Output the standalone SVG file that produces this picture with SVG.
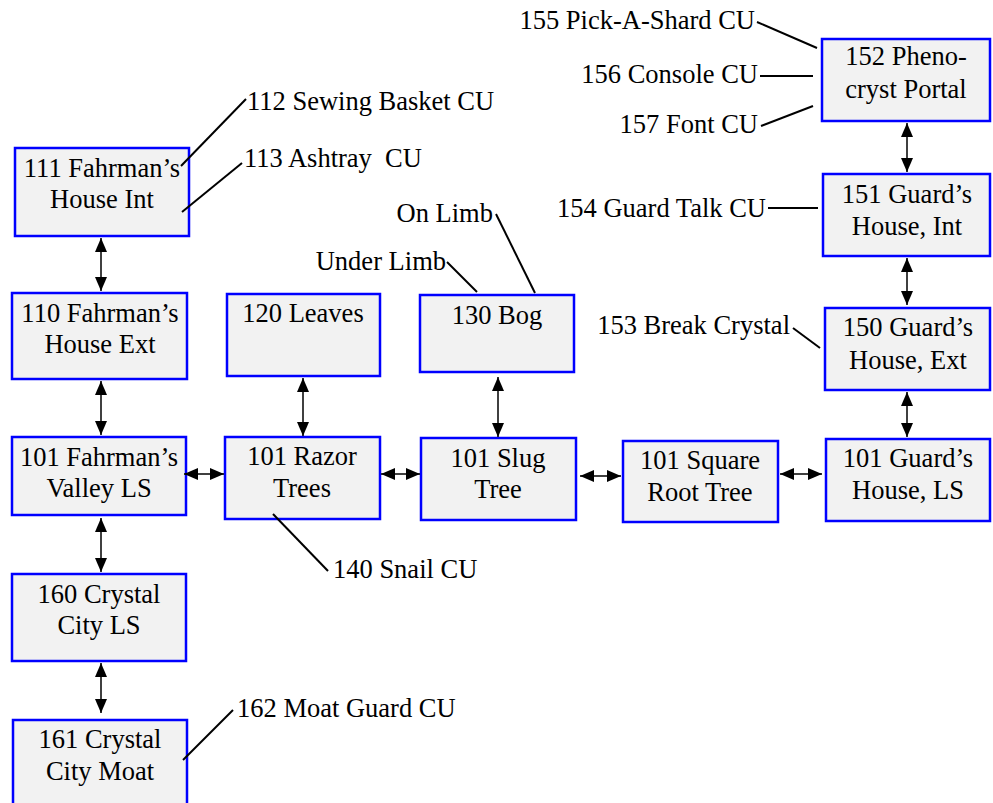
<svg xmlns="http://www.w3.org/2000/svg" width="993" height="803" viewBox="0 0 993 803">
<style>
.box{fill:#f2f2f2;stroke:#0000ff;stroke-width:2.5}
.t{font-family:'Liberation Serif';font-size:26.5px;fill:#000}
.c{text-anchor:middle}
.e{text-anchor:end}
.ln{stroke:#000;stroke-width:2;fill:none}
.ar{stroke:#000;stroke-width:1.5;fill:none;marker-start:url(#ahS);marker-end:url(#ahE)}
</style>
<defs>
<marker id="ahE" viewBox="0 0 14 12" refX="14" refY="6" markerWidth="14" markerHeight="12" markerUnits="userSpaceOnUse" orient="auto">
<path d="M0,0 L14,6 L0,12 Z" fill="#000"/>
</marker>
<marker id="ahS" viewBox="0 0 14 12" refX="0" refY="6" markerWidth="14" markerHeight="12" markerUnits="userSpaceOnUse" orient="auto">
<path d="M14,0 L0,6 L14,12 Z" fill="#000"/>
</marker>
</defs>
<rect width="993" height="803" fill="#fff"/>
<g id="n111"><rect class="box" x="15" y="148" width="174" height="88"/><text class="t c" x="102" y="177">111 Fahrman’s</text><text class="t c" x="102" y="208">House Int</text></g>
<g id="n110"><rect class="box" x="12" y="293" width="175" height="86"/><text class="t c" x="100" y="322">110 Fahrman’s</text><text class="t c" x="100" y="353">House Ext</text></g>
<g id="n101v"><rect class="box" x="12" y="437" width="174" height="78"/><text class="t c" x="99" y="466">101 Fahrman’s</text><text class="t c" x="99" y="497">Valley LS</text></g>
<g id="n160"><rect class="box" x="12" y="574" width="174" height="87"/><text class="t c" x="99" y="603">160 Crystal</text><text class="t c" x="99" y="634">City LS</text></g>
<g id="n161"><rect class="box" x="13" y="720" width="174" height="92"/><text class="t c" x="100" y="748">161 Crystal</text><text class="t c" x="100" y="780">City Moat</text></g>
<g id="n120"><rect class="box" x="227" y="294" width="153" height="82"/><text class="t c" x="303" y="322">120 Leaves</text></g>
<g id="n101r"><rect class="box" x="225" y="437" width="155" height="82"/><text class="t c" x="302" y="465">101 Razor</text><text class="t c" x="302" y="497">Trees</text></g>
<g id="n130"><rect class="box" x="420" y="295" width="154" height="77"/><text class="t c" x="497" y="324">130 Bog</text></g>
<g id="n101s"><rect class="box" x="421" y="438" width="155" height="82"/><text class="t c" x="498" y="467">101 Slug</text><text class="t c" x="498" y="498">Tree</text></g>
<g id="n101q"><rect class="box" x="623" y="441" width="155" height="81"/><text class="t c" x="700" y="469">101 Square</text><text class="t c" x="700" y="501">Root Tree</text></g>
<g id="n101g"><rect class="box" x="826" y="439" width="164" height="82"/><text class="t c" x="908" y="467">101 Guard’s</text><text class="t c" x="908" y="499">House, LS</text></g>
<g id="n150"><rect class="box" x="825" y="308" width="165" height="82"/><text class="t c" x="908" y="336">150 Guard’s</text><text class="t c" x="908" y="369">House, Ext</text></g>
<g id="n151"><rect class="box" x="823" y="174" width="167" height="82"/><text class="t c" x="907" y="203">151 Guard’s</text><text class="t c" x="907" y="235">House, Int</text></g>
<g id="n152"><rect class="box" x="822" y="39" width="168" height="82"/><text class="t c" x="906" y="65">152 Pheno-</text><text class="t c" x="906" y="98">cryst Portal</text></g>
<g id="labels">
<text class="t" x="247" y="110">112 Sewing Basket CU</text>
<text class="t" x="244" y="167" xml:space="preserve">113 Ashtray  CU</text>
<text class="t e" x="755" y="29">155 Pick-A-Shard CU</text>
<text class="t e" x="758" y="83">156 Console CU</text>
<text class="t e" x="758" y="133">157 Font CU</text>
<text class="t e" x="766" y="217">154 Guard Talk CU</text>
<text class="t e" x="790" y="334">153 Break Crystal</text>
<text class="t e" x="493" y="222">On Limb</text>
<text class="t e" x="446" y="270">Under Limb</text>
<text class="t" x="333" y="578">140 Snail CU</text>
<text class="t" x="237" y="717">162 Moat Guard CU</text>
</g>
<g id="connectors">
<line class="ln" x1="246" y1="99" x2="181" y2="166"/>
<line class="ln" x1="242" y1="163" x2="182" y2="212"/>
<line class="ln" x1="757" y1="22" x2="817" y2="48"/>
<line class="ln" x1="760" y1="76" x2="813" y2="76"/>
<line class="ln" x1="761" y1="126" x2="813" y2="106"/>
<line class="ln" x1="768" y1="208" x2="818" y2="208"/>
<line class="ln" x1="793" y1="328" x2="820" y2="348"/>
<line class="ln" x1="496" y1="214" x2="535" y2="293"/>
<line class="ln" x1="447" y1="262" x2="477" y2="292"/>
<line class="ln" x1="273" y1="514" x2="328" y2="571"/>
<line class="ln" x1="233" y1="710" x2="183" y2="760"/>
<line class="ar" x1="101" y1="238" x2="101" y2="291"/>
<line class="ar" x1="101" y1="381" x2="101" y2="435"/>
<line class="ar" x1="101" y1="518" x2="101" y2="572"/>
<line class="ar" x1="101" y1="663" x2="101" y2="713"/>
<line class="ar" x1="303" y1="378" x2="303" y2="436"/>
<line class="ar" x1="498" y1="377" x2="498" y2="437"/>
<line class="ar" x1="907" y1="123" x2="907" y2="172"/>
<line class="ar" x1="907" y1="258" x2="907" y2="305"/>
<line class="ar" x1="907" y1="392" x2="907" y2="437"/>
<line class="ar" x1="184" y1="474" x2="224" y2="474"/>
<line class="ar" x1="381" y1="474" x2="420" y2="474"/>
<line class="ar" x1="580" y1="476" x2="621" y2="476"/>
<line class="ar" x1="780" y1="474" x2="822" y2="474"/>
</g>
</svg>
